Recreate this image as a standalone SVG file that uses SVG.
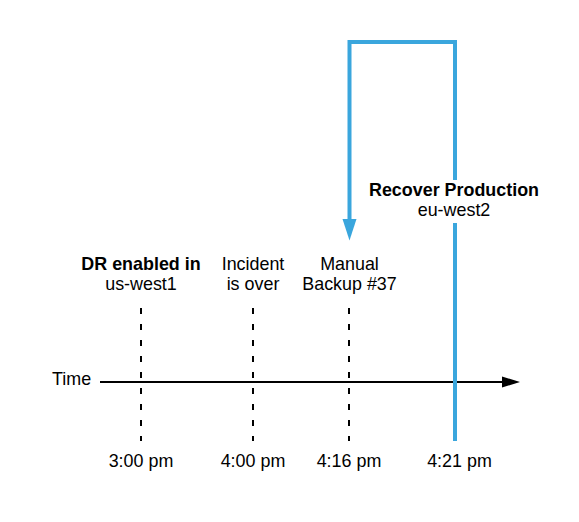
<svg xmlns="http://www.w3.org/2000/svg" width="579" height="522" viewBox="0 0 579 522">
<defs>
<style>
.t{font-family:"Liberation Sans",Arial,sans-serif;font-size:17.9px;fill:#000;text-anchor:middle}
.b{font-weight:bold}
.dash{stroke:#000;stroke-width:2;stroke-dasharray:6 10;fill:none}
.blue{stroke:#3aa6dd;stroke-width:4;fill:none}
</style>
</defs>
<rect width="579" height="522" fill="#fff"/>
<g id="connectors">
<line x1="100" y1="382" x2="503" y2="382" stroke="#000" stroke-width="2"/>
<path d="M520,382 L502,376.5 L502,387.5 Z" fill="#000"/>
<line class="dash" x1="141" y1="308" x2="141" y2="441"/>
<line class="dash" x1="253" y1="308" x2="253" y2="441"/>
<line class="dash" x1="349" y1="308" x2="349" y2="441"/>
<path class="blue" d="M455,180 L455,42 L349.5,42 L349.5,220"/>
<path d="M349.5,240.5 L342.5,219 L356.5,219 Z" fill="#3aa6dd"/>
<line class="blue" x1="455" y1="223" x2="455" y2="441"/>
</g>
<g id="time-label"><text class="t" x="52" y="385" style="text-anchor:start">Time</text></g>
<g id="dr-enabled">
<text class="t b" x="141" y="270">DR enabled in</text>
<text class="t" x="141" y="290">us-west1</text>
<text class="t" x="141" y="467">3:00 pm</text>
</g>
<g id="incident-over">
<text class="t" x="253" y="270">Incident</text>
<text class="t" x="253" y="290">is over</text>
<text class="t" x="253" y="467">4:00 pm</text>
</g>
<g id="manual-backup">
<text class="t" x="349.5" y="270">Manual</text>
<text class="t" x="349.5" y="290">Backup #37</text>
<text class="t" x="349" y="467">4:16 pm</text>
</g>
<g id="recover-production">
<text class="t b" x="454" y="196">Recover Production</text>
<text class="t" x="454" y="216">eu-west2</text>
<text class="t" x="459.5" y="467">4:21 pm</text>
</g>
</svg>
